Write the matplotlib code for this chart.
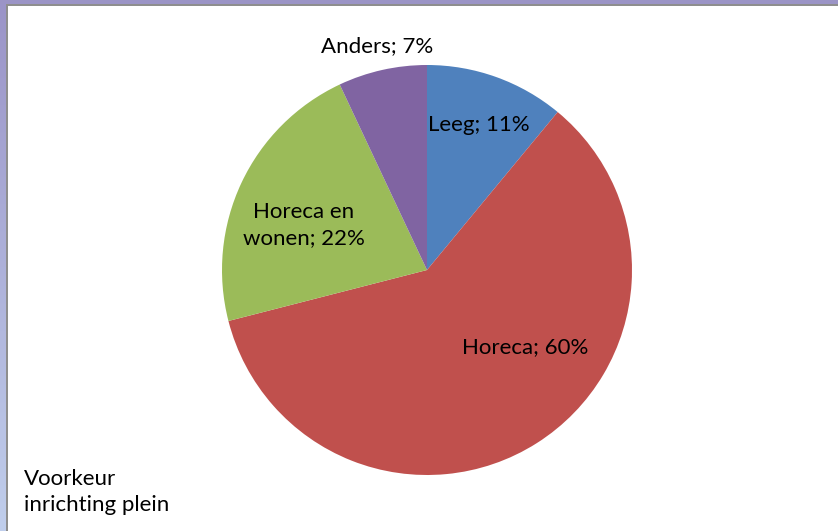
import numpy as np
import matplotlib.pyplot as plt
from matplotlib.patches import Rectangle

plt.rcParams['font.family'] = ['Lato', 'DejaVu Sans']

labels = ['Leeg; 11%', 'Horeca; 60%', 'Horeca en\nwonen; 22%', 'Anders; 7%']
values = [11, 60, 22, 7]
colors = ['#4F81BD', '#C0504D', '#9BBB59', '#8064A2']

# label placement: radial distance and relative position inside the wedge
label_dist = [0.75, 0.61, 0.64, 1.12]
label_frac = [0.5, 0.59, 0.566, 0.5]

W, H = 838, 531
fig = plt.figure(figsize=(W / 100, H / 100), dpi=100)

# pie axes: centre (427, 270) px, radius 205 px
r = 205
ax = fig.add_axes([(427 - r) / W, (H - 270 - r) / H, 2 * r / W, 2 * r / H])
wedges, _ = ax.pie(values, colors=colors, startangle=90, counterclock=False,
                   radius=1, wedgeprops=dict(linewidth=0))
ax.set_xlim(-1, 1)
ax.set_ylim(-1, 1)
ax.set_aspect('equal')
ax.axis('off')

for w, lab, d, f in zip(wedges, labels, label_dist, label_frac):
    ang = np.deg2rad(w.theta1 + f * (w.theta2 - w.theta1))
    ax.text(d * np.cos(ang), d * np.sin(ang), lab, ha='center', va='center',
            fontsize=16, color='black', linespacing=1.35, clip_on=False)

fig.text(24 / W, 1 - 492 / H, 'Voorkeur\ninrichting plein', ha='left', va='center',
         fontsize=16, color='black', linespacing=1.4)

# window frame: purple band on top, gradient band on the left, grey edge lines
fig.add_artist(Rectangle((0, 1 - 4 / H), 1, 4 / H, transform=fig.transFigure,
                         color='#9B94C6', lw=0))
fig.add_artist(Rectangle((7 / W, 1 - 6 / H), 1, 2 / H, transform=fig.transFigure,
                         color='#8E8E8E', lw=0))
grad_ax = fig.add_axes([0, 0, 6 / W, 1 - 4 / H])
top = np.array([155, 148, 200]) / 255
bot = np.array([192, 206, 236]) / 255
t = np.linspace(0, 1, 256)[:, None]
grad = (top * (1 - t) + bot * t)[:, None, :]
grad_ax.imshow(grad, aspect='auto', extent=[0, 1, 0, 1])
grad_ax.axis('off')
fig.add_artist(Rectangle((6 / W, 0), 1.5 / W, 1 - 4 / H, transform=fig.transFigure,
                         color='#8E8E8E', lw=0))

fig.savefig('out.png', dpi=100)
